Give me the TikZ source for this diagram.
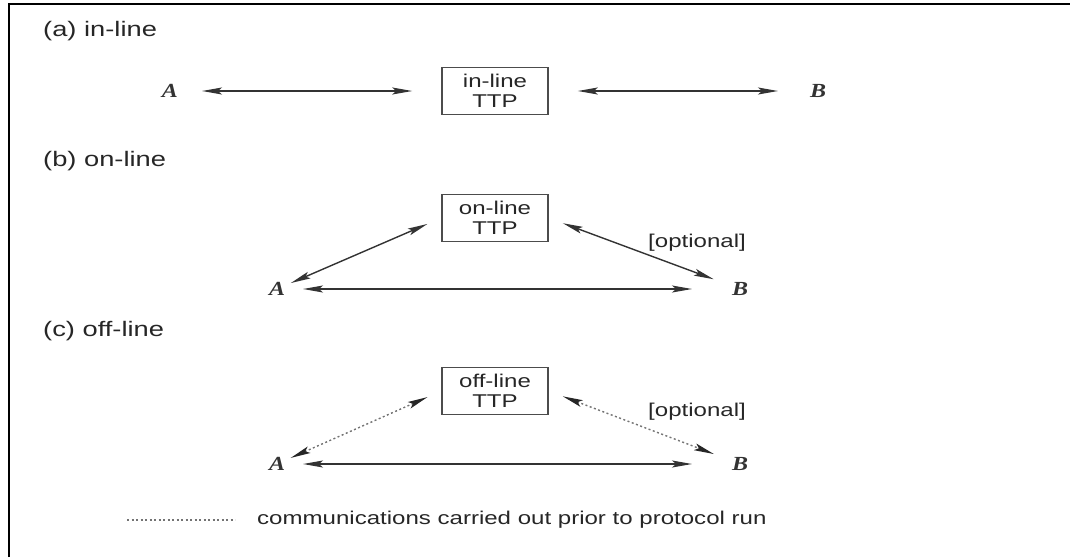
\documentclass[tikz,border=0pt]{standalone}
\usepackage{fontspec}
\setmainfont[FakeStretch=1.3]{Liberation Sans}
\newfontfamily\partyfont[FakeStretch=1.2]{Liberation Serif}
\usetikzlibrary{arrows.meta}

\begin{document}
\begin{tikzpicture}[x=1pt, y=-1pt, >={Stealth[length=20pt, width=7pt, inset=4pt]},
	ttpbox/.style={draw=black!70, line width=1.6pt, minimum width=106pt, minimum height=47pt,
		align=center, inner sep=0pt, font=\fontsize{18.5}{20}\selectfont, text=black!85},
	party/.style={inner sep=0pt, font=\partyfont\bfseries\itshape\fontsize{20}{20}\selectfont, text=black!80},
	caption/.style={anchor=west, inner sep=0pt, font=\fontsize{18.5}{18}\selectfont, text=black!85},
	heading/.style={caption, font=\fontsize{21}{21}\selectfont},
	lnk/.style={<->, line width=1.4pt, black!80},
	prelnk/.style={{Stealth[length=20pt, width=7pt, inset=4pt, color=black!85]}-{Stealth[length=20pt, width=7pt, inset=4pt, color=black!85]},
		line width=1.4pt, dash pattern=on 2pt off 2.5pt, black!55}]
	\useasboundingbox (0,0) rectangle (1070,557);
	% Rahmen
	\draw[line width=2.5pt] (9,557) -- (9,4) -- (1070,4);
	
	% (a) in-line
	\node[heading] (capa) at (43,31) {(a) in-line};
	\node[party] (Aa) at (170,91) {A};
	\node[ttpbox] (ttpa) at (495,91) {in-line\\TTP};
	\node[party] (Ba) at (818,91) {B};
	\draw[lnk, shorten <=32pt, shorten >=29pt] (Aa.center) -- (ttpa.west);
	\draw[lnk, shorten <=29pt, shorten >=40pt] (ttpa.east) -- (Ba.center);
	
	% (b) on-line
	\node[heading] (capb) at (43,161) {(b) on-line};
	\node[ttpbox] (ttpb) at (495,218) {on-line\\TTP};
	\node[party] (Ab) at (277,289) {A};
	\node[party] (Bb) at (740,289) {B};
	\node[caption, anchor=center] (optb) at (697,243) {[optional]};
	\draw[lnk, shorten <=15pt, shorten >=15pt] (Ab.center) -- (ttpb.west);
	\draw[lnk, shorten <=15pt, shorten >=28pt] (ttpb.east) -- (Bb.center);
	\draw[lnk, shorten <=26pt, shorten >=48pt] (Ab.center) -- (Bb.center);
	
	% (c) off-line
	\node[heading] (capc) at (43,331) {(c) off-line};
	\node[ttpbox] (ttpc) at (495,391) {off-line\\TTP};
	\node[party] (Ac) at (277,464) {A};
	\node[party] (Bc) at (740,464) {B};
	\node[caption, anchor=center] (optc) at (697,412) {[optional]};
	\draw[prelnk, shorten <=15pt, shorten >=15pt] (Ac.center) -- (ttpc.west);
	\draw[prelnk, shorten <=15pt, shorten >=28pt] (ttpc.east) -- (Bc.center);
	\draw[lnk, shorten <=26pt, shorten >=48pt] (Ac.center) -- (Bc.center);
	
	% Legende
	\coordinate (lega) at (127,520);
	\coordinate (legb) at (235,520);
	\draw[black!55, line width=1.4pt, dash pattern=on 2pt off 2.5pt] (lega) -- (legb);
	\node[caption] (legtxt) at (257,520) {communications carried out prior to protocol run};
\end{tikzpicture}
\end{document}
